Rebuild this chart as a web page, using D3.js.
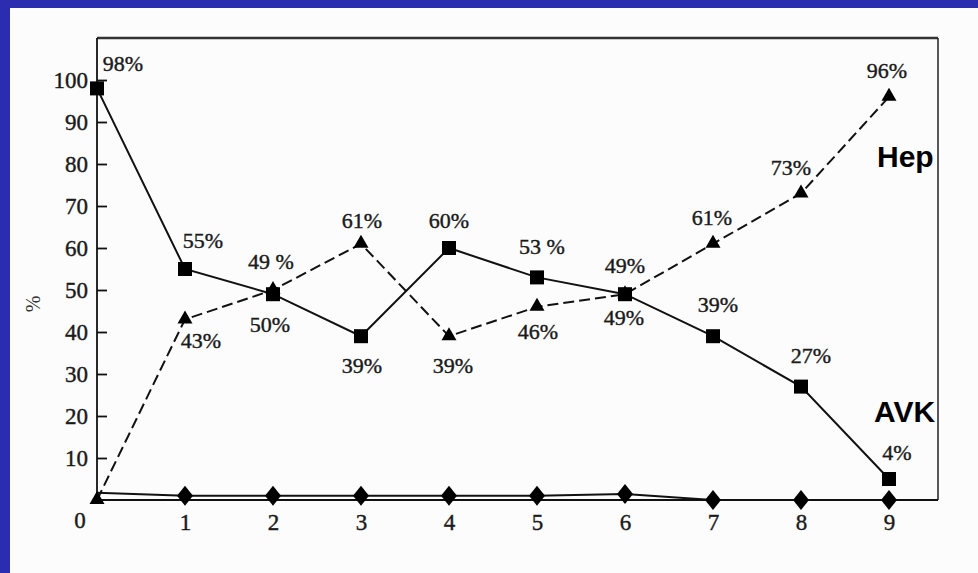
<!DOCTYPE html>
<html>
<head>
<meta charset="utf-8">
<script src="https://cdn.jsdelivr.net/npm/d3@7"></script>
<style>
  html, body { margin: 0; padding: 0; background: #fcfcfc; overflow: hidden; }
  svg { display: block; }
</style>
</head>
<body>
<svg id="chart" width="978" height="573"></svg>
<script>
// data
const xs = [0, 1, 2, 3, 4, 5, 6, 7, 8, 9];
const avkValues = [98, 55, 49, 39, 60, 53, 49, 39, 27, 5];
const hepValues = [0, 43, 50, 61, 39, 46, 49, 61, 73, 96];
const otherValues = [1.7, 1, 1, 1, 1, 1, 1.4, 0, 0, 0];
const avkLabels = ["98%", "55%", "49 %", "39%", "60%", "53 %", "49%", "39%", "27%", "4%"];
const hepLabels = ["", "43%", "50%", "61%", "39%", "46%", "49%", "61%", "73%", "96%"];
const yTicks = [10, 20, 30, 40, 50, 60, 70, 80, 90, 100];
const xTicks = [1, 2, 3, 4, 5, 6, 7, 8, 9];

// label offsets from the point (dx, baseline dy)
const avkLabelOffset = [[26, -17], [18, -21], [-2, -25], [1, 37], [0, -20], [5, -23], [0, -21], [5, -24], [10, -24], [8, -19]];
const hepLabelOffset = [[0, 0], [16, 29], [-3, 42], [1, -16], [4, 37], [1, 32], [-1, 31], [-1, -19], [-10, -18], [-2, -19]];

const svg = d3.select("#chart");

// blue slide border (left and top)
svg.append("rect")
    .attr("x", 0).attr("y", 0)
    .attr("width", 10).attr("height", 573)
    .attr("fill", "#2c2cb0");
svg.append("rect")
    .attr("x", 0).attr("y", 0)
    .attr("width", 978).attr("height", 8)
    .attr("fill", "#2c2cb0");

const x = d3.scaleLinear().domain([0, 9]).range([97, 889]);
const y = d3.scaleLinear().domain([0, 100]).range([500, 80]);

const serif = "'Liberation Serif', 'Times New Roman', serif";
const ink = "#1a1a1a";

// frame
const frameRight = 938;
svg.append("line")
    .attr("x1", x(0)).attr("x2", frameRight)
    .attr("y1", y(110)).attr("y2", y(110))
    .attr("stroke", "#333").attr("stroke-width", 2.5);
svg.append("line")
    .attr("x1", frameRight).attr("x2", frameRight)
    .attr("y1", y(110)).attr("y2", y(0))
    .attr("stroke", "#222").attr("stroke-width", 1.5);
svg.append("line")
    .attr("x1", x(0)).attr("x2", x(0))
    .attr("y1", y(110)).attr("y2", y(0))
    .attr("stroke", "#111").attr("stroke-width", 1.8);
svg.append("line")
    .attr("x1", x(0)).attr("x2", frameRight)
    .attr("y1", y(0)).attr("y2", y(0))
    .attr("stroke", "#111").attr("stroke-width", 2);

// y axis (ticks pointing inward)
const yAxis = svg.append("g")
    .attr("class", "y axis")
    .attr("transform", `translate(${x(0)},0)`)
    .call(d3.axisLeft(y).tickValues(yTicks).tickSizeInner(-10).tickSizeOuter(0).tickPadding(9));
yAxis.select(".domain").remove();
yAxis.selectAll("line").attr("stroke", "#111").attr("stroke-width", 1.8);
yAxis.selectAll("text")
    .style("font-family", serif)
    .style("font-size", "23px")
    .attr("fill", ink)
    .attr("stroke", ink).attr("stroke-width", 0.4);

// x axis
const xAxis = svg.append("g")
    .attr("class", "x axis")
    .attr("transform", `translate(0,${y(0)})`)
    .call(d3.axisBottom(x).tickValues(xTicks).tickSize(0).tickPadding(14));
xAxis.select(".domain").remove();
xAxis.selectAll("text")
    .style("font-family", serif)
    .style("font-size", "23px")
    .attr("fill", ink)
    .attr("stroke", ink).attr("stroke-width", 0.4);

svg.append("text")
    .attr("x", 80).attr("y", 528)
    .attr("text-anchor", "middle")
    .style("font-family", serif)
    .style("font-size", "23px")
    .attr("fill", ink)
    .attr("stroke", ink).attr("stroke-width", 0.4)
    .text("0");

// y axis title
svg.append("text")
    .attr("transform", "translate(40,304) rotate(-90)")
    .attr("text-anchor", "middle")
    .style("font-family", serif)
    .style("font-size", "20px")
    .attr("fill", "#333")
    .text("%");

// lines
const line = d3.line().x((d, i) => x(xs[i])).y(d => y(d));

svg.append("path")
    .attr("d", line(otherValues))
    .attr("fill", "none")
    .attr("stroke", "#111")
    .attr("stroke-width", 2);

svg.append("path")
    .attr("d", line(hepValues))
    .attr("fill", "none")
    .attr("stroke", "#111")
    .attr("stroke-width", 2)
    .attr("stroke-dasharray", "11,5");

svg.append("path")
    .attr("d", line(avkValues))
    .attr("fill", "none")
    .attr("stroke", "#111")
    .attr("stroke-width", 2);

// markers
svg.selectAll(".diamond")
    .data(otherValues.slice(1))
    .enter()
    .append("path")
    .attr("class", "diamond")
    .attr("d", "M0,-10L8,0L0,10L-8,0Z")
    .attr("transform", (d, i) => `translate(${x(xs[i + 1])},${y(d)})`)
    .attr("fill", "#000");

svg.selectAll(".triangle")
    .data(hepValues)
    .enter()
    .append("path")
    .attr("class", "triangle")
    .attr("d", "M0,-7L7.5,6L-7.5,6Z")
    .attr("transform", (d, i) => `translate(${x(xs[i])},${y(d) - 2})`)
    .attr("fill", "#000");

svg.selectAll(".square")
    .data(avkValues)
    .enter()
    .append("rect")
    .attr("class", "square")
    .attr("x", (d, i) => x(xs[i]) - 7)
    .attr("y", d => y(d) - 7)
    .attr("width", 14)
    .attr("height", 14)
    .attr("fill", "#000");

// value labels
function addLabels(values, labels, offsets) {
    svg.selectAll(null)
        .data(values)
        .enter()
        .append("text")
        .attr("x", (d, i) => x(xs[i]) + offsets[i][0])
        .attr("y", (d, i) => y(d) + offsets[i][1])
        .attr("text-anchor", "middle")
        .style("font-family", serif)
        .style("font-size", "22px")
        .attr("fill", ink)
        .attr("stroke", ink).attr("stroke-width", 0.4)
        .text((d, i) => labels[i]);
}
addLabels(avkValues, avkLabels, avkLabelOffset);
addLabels(hepValues, hepLabels, hepLabelOffset);

// series names
svg.append("text")
    .attr("x", 877).attr("y", 167)
    .style("font-family", "'Liberation Sans', Arial, sans-serif")
    .style("font-weight", "bold")
    .style("font-size", "30px")
    .attr("fill", "#000")
    .text("Hep");

svg.append("text")
    .attr("x", 874).attr("y", 422)
    .style("font-family", "'Liberation Sans', Arial, sans-serif")
    .style("font-weight", "bold")
    .style("font-size", "30px")
    .attr("fill", "#000")
    .text("AVK");
</script>
</body>
</html>
